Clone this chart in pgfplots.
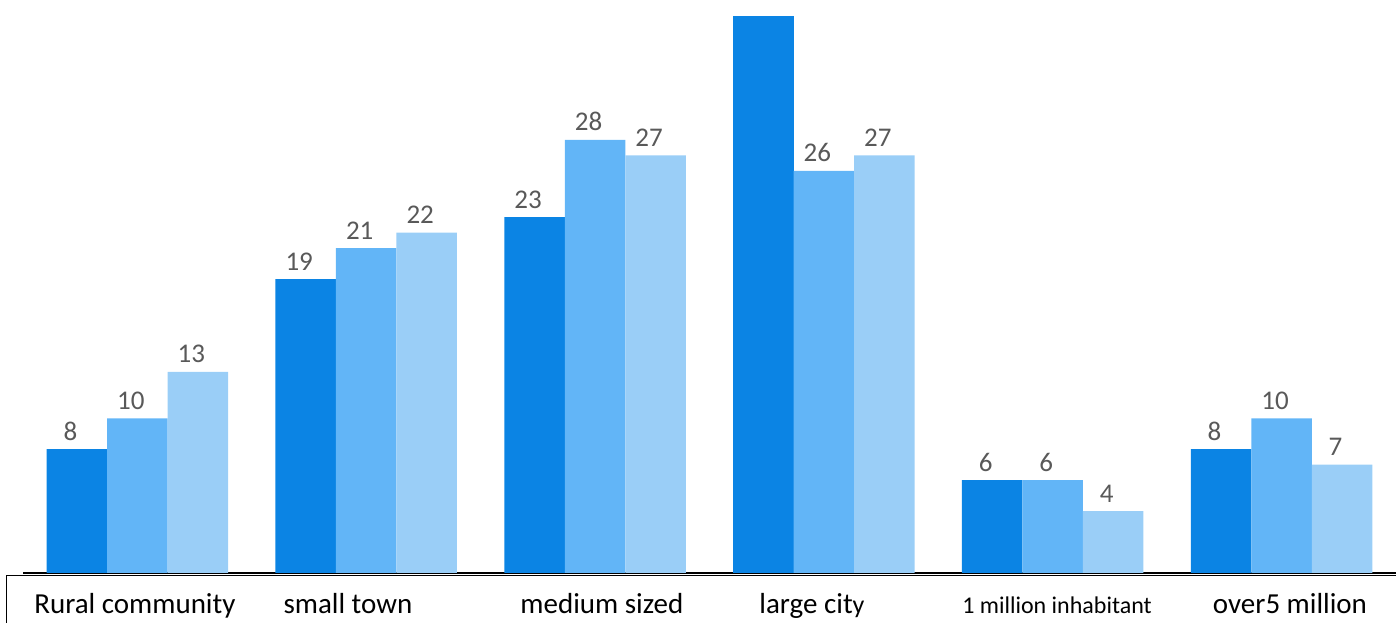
\documentclass[border=0pt]{standalone}
\usepackage{pgfplots}
\pgfplotsset{compat=1.18}
\usepackage{fontspec}
\setmainfont{Carlito}

\definecolor{barA}{RGB}{11,132,228}
\definecolor{barB}{RGB}{98,181,247}
\definecolor{barC}{RGB}{154,206,247}
\definecolor{valgray}{RGB}{89,89,89}
\definecolor{baseline}{RGB}{58,68,80}

\begin{document}
\begin{tikzpicture}
\useasboundingbox (0,0) rectangle (1396pt,623pt);
% frame of the label box under the bars
\draw[black, line width=1pt] (6pt,-5pt) -- (6pt,47.5pt) -- (1400pt,47.5pt);
\begin{axis}[
  at={(23pt,50pt)}, anchor=south west,
  width=1373pt, height=573pt, scale only axis,
  xmin=-0.5, xmax=5.5, ymin=0, ymax=37.04,
  axis x line*=bottom, axis y line=none,
  axis line style={baseline, line width=2pt},
  xtick=\empty, ytick=\empty,
  clip=false,
  /pgf/number format/assume math mode=true,
  ybar, bar width=60.5pt,
  nodes near coords style={font=\fontsize{27}{27}\selectfont, text=valgray,
    anchor=base, yshift=9pt, xshift=-6.5pt, inner sep=0pt},
]
% first series
\addplot[ybar, bar shift=-60.5pt, fill=barA, draw=none, nodes near coords]
  coordinates {(0,8) (1,19) (2,23) (4,6) (5,8)};
\addplot[ybar, bar shift=-60.5pt, fill=barA, draw=none]
  coordinates {(3,36)};
% second series
\addplot[ybar, bar shift=0pt, fill=barB, draw=none, nodes near coords]
  coordinates {(0,10) (1,21) (2,28) (3,26) (4,6) (5,10)};
% third series
\addplot[ybar, bar shift=60.5pt, fill=barC, draw=none, nodes near coords]
  coordinates {(0,13) (1,22) (2,27) (3,27) (4,4) (5,7)};

% category names
\begin{scope}[every node/.style={anchor=base, yshift=-41pt, inner sep=0pt,
    font=\fontsize{29}{29}\selectfont}]
\node at (axis cs:-0.011,0) {Rural community};
\node at (axis cs:0.920,0) {small town};
\node at (axis cs:2.030,0) {medium sized};
\node at (axis cs:2.948,0) {large cit{\fontsize{26}{26}\selectfont y}};
\node[font=\fontsize{24}{24}\selectfont] at (axis cs:4.019,0) {1 million inhabitant};
\node at (axis cs:5.037,0) {over5 million};
\end{scope}
\end{axis}
\end{tikzpicture}
\end{document}
